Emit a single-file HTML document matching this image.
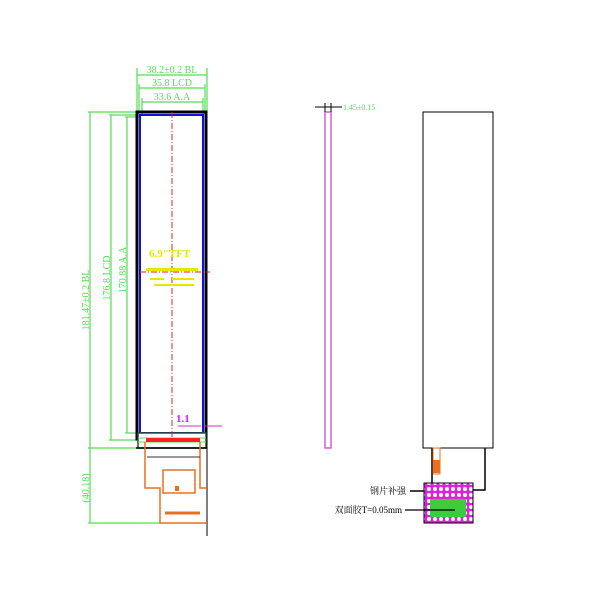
<!DOCTYPE html>
<html><head><style>body{margin:0;background:#fff}svg{display:block}</style></head><body>
<svg width="600" height="600" xmlns="http://www.w3.org/2000/svg" font-family="Liberation Serif, Noto Serif CJK SC, serif">
<defs>
<pattern id="h" width="6" height="6" patternUnits="userSpaceOnUse">
<rect width="6" height="6" fill="#e020e0"/><circle cx="3" cy="3" r="2" fill="#fff"/></pattern>
</defs>
<g stroke="#55dd55" fill="none" stroke-width="1.2">
<line x1="137" y1="75" x2="207" y2="75"/><line x1="137" y1="68" x2="137" y2="113"/><line x1="207" y1="68" x2="207" y2="113"/>
<line x1="139" y1="88" x2="205" y2="88"/><line x1="139" y1="84" x2="139" y2="113"/><line x1="205" y1="84" x2="205" y2="113"/>
<line x1="142" y1="102" x2="203" y2="102"/><line x1="142" y1="98" x2="142" y2="114"/><line x1="203" y1="98" x2="203" y2="114"/>
<line x1="88" y1="112" x2="137" y2="112"/><line x1="109" y1="115" x2="139" y2="115"/><line x1="125" y1="117" x2="141" y2="117"/>
<line x1="90" y1="112" x2="90" y2="523"/><line x1="111" y1="115" x2="111" y2="440"/><line x1="127" y1="117" x2="127" y2="433"/>
<line x1="125" y1="433" x2="139" y2="433"/><line x1="109" y1="440" x2="137" y2="440"/><line x1="88" y1="448" x2="137" y2="448"/>
<line x1="88" y1="523" x2="160" y2="523"/>
</g>
<g fill="#55dd55" font-size="10">
<text x="172" y="73" text-anchor="middle">38.2±0.2 BL</text>
<text x="172" y="86" text-anchor="middle">35.8 LCD</text>
<text x="172" y="100" text-anchor="middle">33.6 A.A</text>
<text transform="translate(89,300) rotate(-90)" text-anchor="middle">181.47±0.2 BL</text>
<text transform="translate(110,278) rotate(-90)" text-anchor="middle">176.8 LCD</text>
<text transform="translate(126,270) rotate(-90)" text-anchor="middle">170.88 A.A</text>
<text transform="translate(89,488) rotate(-90)" text-anchor="middle">(40.18)</text>
<text x="343" y="110" font-size="8">1.45±0.15</text>
</g>
<rect x="137" y="112" width="69" height="327" fill="none" stroke="#000" stroke-width="3"/>
<rect x="140" y="115" width="63" height="318" fill="none" stroke="#1010e0" stroke-width="2"/>
<rect x="138" y="433" width="68" height="15" fill="#fff" stroke="#225522" stroke-width="1.5"/>
<line x1="138" y1="438" x2="206" y2="438" stroke="#55dd55"/>
<line x1="138" y1="442" x2="206" y2="442" stroke="#55dd55"/>
<rect x="146" y="438" width="54" height="4" fill="#ff2020"/>
<line x1="136" y1="448" x2="207" y2="448" stroke="#000" stroke-width="1.5"/>
<line x1="207" y1="112" x2="207" y2="536" stroke="#000"/>
<line x1="172" y1="112" x2="172" y2="440" stroke="#e02020" stroke-dasharray="6,2,1,2"/>
<line x1="140" y1="272" x2="210" y2="272" stroke="#e02020" stroke-dasharray="6,2,1,2"/>
<g fill="#e6e600" font-size="11" font-weight="bold"><text x="149" y="257">6.9"TFT</text></g>
<rect x="146" y="268" width="52" height="3" fill="#e6e600"/>
<rect x="150" y="278" width="14" height="2" fill="#e6e600"/><rect x="172" y="278" width="22" height="2" fill="#e6e600"/>
<rect x="154" y="284" width="40" height="2" fill="#e6e600"/>
<line x1="178" y1="426" x2="201" y2="426" stroke="#e020e0"/><line x1="204" y1="426" x2="222" y2="426" stroke="#e020e0"/>
<text x="176" y="422" fill="#e020e0" font-size="11" font-weight="bold">1.1</text>
<g stroke="#e87020" fill="none" stroke-width="1.5">
<path d="M145 442 V488 H160 V523 H206"/><path d="M200 442 V488 H206"/>
<line x1="147" y1="457" x2="200" y2="457" stroke="#333" stroke-width="1"/>
<rect x="163" y="470" width="32" height="23"/>
<line x1="165" y1="513" x2="200" y2="513" stroke-width="3"/>
</g>
<rect x="175" y="486" width="4" height="5" fill="#e87020"/>
<rect x="325" y="112" width="6" height="336" fill="none" stroke="#d060d0" stroke-width="1.5"/>
<line x1="315" y1="107" x2="342" y2="107" stroke="#000"/>
<line x1="325" y1="103" x2="325" y2="112" stroke="#000"/><line x1="331" y1="103" x2="331" y2="112" stroke="#000"/>
<rect x="423" y="112" width="70" height="336" fill="#fff" stroke="#000"/>
<g stroke="#000" fill="none" stroke-width="1.5">
<path d="M432 448 V484"/><path d="M485 448 V490 H473"/>
<path d="M410 491 H473"/>
</g>
<rect x="433" y="448" width="7" height="26" fill="#fff" stroke="#e87020"/>
<rect x="433" y="460" width="7" height="13" fill="#e87020"/>
<rect x="424" y="483" width="49" height="40" fill="url(#h)" stroke="#000" stroke-width="1"/>
<rect x="430" y="499" width="36" height="18" fill="#3ccc3c"/>
<line x1="405" y1="510" x2="455" y2="510" stroke="#000" stroke-width="1.2"/>
<g font-size="9" fill="#000" text-anchor="end"><text x="406" y="494">钢片补强</text><text x="402" y="513">双面胶T=0.05mm</text></g>
</svg>
</body></html>
